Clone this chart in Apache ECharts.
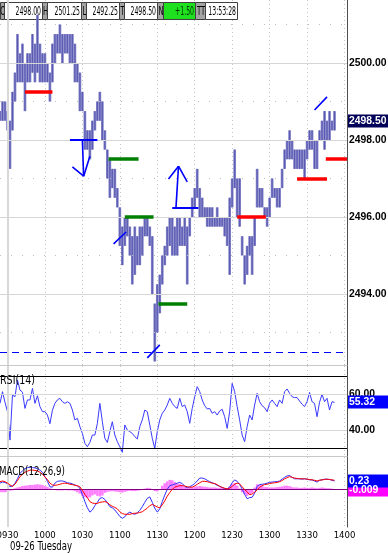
<!DOCTYPE html>
<html><head><meta charset="utf-8">
<script src="https://cdn.jsdelivr.net/npm/echarts@6/dist/echarts.min.js"></script>
<style>html,body{margin:0;padding:0;background:#fff;overflow:hidden}#c{width:388px;height:553px}</style>
</head><body><div id="c"></div>
<script>
// ================= DATA =================
const startMinute = -6;          // first category, minutes from 09:30
const endMinute = 272;           // last category
const barStepMinutes = 2;        // bars / indicator samples every 2 minutes from startMinute

const barHigh = [
 2498.75,2499,2499,2498.75,2498.5,2499.25,2499.75,2500.75,2500.25,2500.5,
 2500,2500.25,2500.25,2500.75,2500.5,2501.25,2500.5,2500.25,2500.25,2500,
 2499.75,2500.5,2500.75,2500.75,2501,2500.75,2500.75,2500.75,2500.75,2500.75,
 2500.5,2500,2499.75,2499.25,2498.75,2498.25,2498.25,2498.5,2498.75,2499,
 2499.25,2499,2498.25,2497.75,2497.5,2497.25,2497.25,2496.75,2496.25,2495.75,
 2496,2496,2495.75,2495.5,2495.75,2495.5,2495.75,2495.75,2496,2496,
 2495.75,2495.5,2493.75,2494.25,2494.5,2495,2495.25,2495.75,2496,2496,
 2495.75,2496,2496,2495.75,2496,2495.75,2496,2496.5,2496.75,2497.25,
 2496.75,2496.5,2496.25,2496.25,2496.25,2496.25,2496,2496.25,2496,2496,
 2496,2496,2496.5,2497,2497.75,2497,2497,2495.5,2495,2495.25,
 2495.5,2495.5,2496,2497.25,2496.75,2496.75,2496.25,2496.25,2496.5,2497,
 2496.75,2496.75,2496.75,2497.25,2497.75,2498,2498.25,2498,2497.75,2497.75,
 2497.75,2497.75,2497.75,2498,2498.25,2498.25,2498,2498,2498.25,2498.5,
 2498.75,2498.5,2498.75,2498.5,2498.75
];
const barLow = [
 2498.5,2498.5,2498.5,2498.25,2497.25,2498.25,2499,2499.5,2499.5,2499.5,
 2498.75,2499.5,2499.5,2499.75,2499.5,2499.75,2499.5,2499.5,2499.5,2499.5,
 2499,2499.5,2500,2500.25,2500.25,2500,2500.25,2500.25,2500,2500,
 2499.5,2499.5,2498.75,2498.75,2497.75,2497.75,2497.5,2497.75,2498.25,2498.5,
 2498.5,2498,2497.75,2497,2496.5,2496.75,2496.5,2496.25,2495.25,2494.75,
 2495.25,2495.5,2495,2494.25,2494.5,2494.75,2494.75,2495,2495.5,2495.5,
 2495.25,2494,2492.25,2493,2493.5,2494.25,2494.75,2495,2495.25,2495,
 2495,2495,2495.25,2495.25,2495.25,2494.25,2495.5,2496,2496.25,2496.5,
 2496,2496,2496,2495.75,2495.75,2495.75,2495.75,2495.75,2495.75,2495.75,
 2495.5,2495.25,2494.5,2496.25,2496.75,2496,2495.75,2495,2494.25,2494.5,
 2495,2494.5,2495.25,2496.25,2496.25,2496.25,2496,2495.75,2496,2496.5,
 2496.5,2496.25,2496.25,2496.75,2497.25,2497.5,2497.5,2497.5,2497.25,2497.25,
 2497.25,2497.25,2497,2497.5,2497.75,2497.75,2497.25,2497.25,2498,2498,
 2497.75,2498,2498,2498.25,2498.25
];
const rsiValues = [
 54.8,61.3,55.4,50.2,34.4,59.4,58.5,67.8,62.2,61.0,
 52.0,56.7,56.7,63.1,54.8,59.0,53.0,50.2,50.2,48.3,
 43.5,51.0,54.8,56.7,57.6,55.7,54.8,55.7,54.8,51.1,
 45.6,46.5,41.9,38.1,32.6,30.7,33.1,37.2,37.2,43.7,
 54.8,44.6,35.4,33.1,39.1,44.6,37.2,33.5,30.7,27.6,
 42.8,40.0,39.1,38.1,36.3,35.0,41.9,45.6,51.1,50.2,
 42.8,35.4,29.8,39.1,45.6,49.3,51.1,53.9,57.6,54.8,
 53.0,52.0,57.6,53.0,53.9,50.2,43.7,52.0,58.5,64.1,
 61.3,56.7,53.5,51.7,52.0,49.3,50.2,48.3,50.6,51.5,
 47.4,40.9,50.2,65.9,61.3,53.0,45.6,37.2,33.5,41.9,
 48.3,45.6,53.9,60.4,55.7,53.5,52.4,50.2,54.8,56.7,
 54.8,53.0,56.7,54.8,61.3,62.8,60.4,58.5,58.0,58.0,
 56.1,54.3,53.0,55.7,60.9,55.7,54.8,47.4,55.4,59.8,
 55.7,57.6,51.1,55.7,55.32
];
const macdValues = [
 0.17,0.20,0.19,0.15,0.07,0.09,0.17,0.29,0.44,0.51,
 0.57,0.60,0.61,0.60,0.59,0.57,0.53,0.47,0.35,0.22,
 0.07,0.06,0.17,0.22,0.23,0.23,0.21,0.18,0.17,0.15,
 0.12,0.09,0.03,-0.14,-0.34,-0.51,-0.63,-0.57,-0.45,-0.36,
 -0.25,-0.23,-0.28,-0.37,-0.48,-0.51,-0.57,-0.66,-0.75,-0.80,
 -0.76,-0.67,-0.63,-0.67,-0.69,-0.65,-0.58,-0.48,-0.36,-0.25,
 -0.21,-0.36,-0.52,-0.63,-0.54,-0.34,-0.16,0.00,0.10,0.12,
 0.14,0.17,0.19,0.16,0.08,0.04,0.07,0.11,0.16,0.23,
 0.31,0.31,0.29,0.25,0.21,0.18,0.15,0.11,0.08,0.05,
 0.02,0.01,0.06,0.18,0.26,0.22,0.13,0.01,-0.14,-0.26,
 -0.23,-0.22,-0.11,0.08,0.13,0.14,0.15,0.17,0.19,0.20,
 0.21,0.21,0.23,0.28,0.33,0.37,0.38,0.33,0.29,0.29,
 0.29,0.28,0.29,0.28,0.26,0.26,0.23,0.20,0.25,0.26,
 0.28,0.28,0.27,0.25,0.23
];
const signalValues = [
 0.21,0.23,0.21,0.17,0.12,0.08,0.14,0.24,0.35,0.41,
 0.47,0.50,0.53,0.53,0.52,0.51,0.47,0.42,0.34,0.27,
 0.17,0.12,0.11,0.12,0.14,0.16,0.17,0.16,0.14,0.13,
 0.11,0.10,0.07,-0.03,-0.14,-0.23,-0.34,-0.38,-0.39,-0.39,
 -0.36,-0.35,-0.34,-0.36,-0.43,-0.47,-0.50,-0.54,-0.62,-0.67,
 -0.69,-0.69,-0.69,-0.67,-0.66,-0.66,-0.64,-0.62,-0.57,-0.52,
 -0.45,-0.42,-0.45,-0.49,-0.51,-0.43,-0.32,-0.19,-0.09,0.00,
 0.06,0.08,0.10,0.10,0.09,0.07,0.06,0.06,0.09,0.14,
 0.18,0.22,0.22,0.21,0.19,0.17,0.16,0.13,0.08,0.05,
 0.03,0.01,0.03,0.08,0.14,0.17,0.15,0.07,-0.01,-0.07,
 -0.15,-0.13,-0.08,-0.02,0.06,0.10,0.13,0.14,0.16,0.17,
 0.18,0.19,0.21,0.24,0.29,0.32,0.35,0.33,0.31,0.30,
 0.29,0.29,0.29,0.28,0.27,0.26,0.25,0.23,0.25,0.26,
 0.27,0.28,0.27,0.26,0.25
];
const histValues = [
 -0.08,-0.08,-0.08,-0.07,-0.04,-0.03,0.03,0.05,0.07,0.09,
 0.10,0.11,0.12,0.12,0.13,0.14,0.13,0.12,0.09,0.07,
 0.03,0.01,-0.02,-0.03,-0.03,-0.03,-0.02,-0.03,-0.03,-0.03,
 -0.05,-0.08,-0.12,-0.18,-0.22,-0.24,-0.22,-0.17,-0.14,-0.18,
 -0.20,-0.17,-0.10,-0.07,-0.06,-0.05,-0.06,-0.07,-0.08,-0.09,
 -0.07,-0.05,-0.04,-0.05,-0.05,-0.04,-0.03,-0.02,0.02,0.04,
 0.03,-0.02,-0.05,-0.06,-0.02,0.10,0.17,0.22,0.26,0.25,
 0.20,0.16,0.15,0.12,0.06,0.03,0.05,0.06,0.07,0.08,
 0.09,0.08,0.07,0.06,0.05,0.05,0.05,0.04,0.04,0.03,
 0.02,0.03,0.08,0.15,0.17,0.10,0.02,-0.08,-0.14,-0.18,
 -0.14,-0.10,0.05,0.14,0.13,0.10,0.06,0.06,0.05,0.05,
 0.05,0.06,0.07,0.08,0.10,0.10,0.09,0.06,0.05,0.05,
 0.04,0.04,0.05,0.04,0.04,0.05,0.04,0.03,0.04,0.05,
 0.04,0.03,0.03,0.02,-0.009
];

const priceTicks = [2494, 2496, 2498, 2500];
const priceMinorLevels = [2493, 2495, 2497, 2499, 2501];
const rsiTicks = [40, 60];
const rsiBands = [30, 70];

// header quote
const openPrice = 2498.00, highPrice = 2501.25, lowPrice = 2492.25, lastPrice = 2498.50, netChange = 1.50;
const lastTime = '13:53:28';
const dateText = '09-26 Tuesday';

// drawing annotations (minutes from 09:30, price)
const redLevels = [[14, 36, 2499.25], [184, 207, 2496.0], [232, 256, 2497.0], [255, 272, 2497.5]];
const greenLevels = [[81, 105, 2497.5], [94, 117, 2496.0], [121, 144, 2493.75]];
const blueLevels = [[50, 72, 2498.0], [132, 153, 2496.25]];
const blueStrokes = [
 [60, 2498.0, 61, 2497.06], [52, 2497.3, 61, 2497.06], [61, 2497.06, 66, 2497.58],
 [85, 2495.30, 95, 2495.61], [112, 2492.34, 122, 2492.68],
 [135, 2496.25, 137, 2497.32], [129, 2496.99, 137, 2497.32], [137, 2497.32, 144, 2496.91],
 [246, 2498.78, 256, 2499.12]
];
const dashedLevel = 2492.5;

// ================= FONT PICK =================
const mctx = document.createElement('canvas').getContext('2d');
function mw(font, txt) { mctx.font = font; return mctx.measureText(txt).width; }
const probe = '2500.00 Tuesday';
const hasFam = f => Math.abs(mw("12px " + f + ", monospace", probe) - mw("12px monospace", probe)) > 0.5;
let FONT = "'Liberation Sans'";
if (hasFam("'Liberation Sans Narrow'")) { FONT = "'Liberation Sans Narrow'"; }
else if (hasFam("'DejaVu Sans Condensed'")) { FONT = "'DejaVu Sans Condensed'"; }
const fnt = (w, s) => (w || 'normal') + ' ' + s + 'px ' + FONT;
const AXFONT = "'Liberation Sans', Arial, sans-serif";
const axFnt = (w, s) => (w || 'normal') + ' ' + s + 'px ' + AXFONT;
const axisFs = Math.min(11.5, 11.5 * 37.5 / mw(axFnt('bold', 11.5), '2500.00'));
const timeFs = 9.5;

// ================= BUILD =================
const categories = [];
for (let m = startMinute; m <= endMinute; m++) {
  const t = 9 * 60 + 30 + m;
  categories.push(String(Math.floor(t / 60)).padStart(2, '0') + String(t % 60).padStart(2, '0'));
}
const catOf = m => categories[Math.round(m) - startMinute];
const idxOfSample = i => i * barStepMinutes;
const isHalfHour = (i, v) => v.endsWith('00') || v.endsWith('30');

const barData = barHigh.map((h, i) => [idxOfSample(i), h, barLow[i]]);
const rsiData = rsiValues.map((v, i) => [idxOfSample(i), v]);
const macdData = macdValues.map((v, i) => [idxOfSample(i), v]);
const sigData = signalValues.map((v, i) => [idxOfSample(i), v]);
const histData = histValues.map((v, i) => [idxOfSample(i), v]);

const lastRsi = rsiValues[rsiValues.length - 1];
const lastMacd = macdValues[macdValues.length - 1];
const lastHist = histValues[histValues.length - 1];

function xAxisCfg(gi, showLabel) {
  return {
    type: 'category', gridIndex: gi, data: categories, boundaryGap: false,
    axisTick: { show: false },
    axisLine: { show: showLabel, lineStyle: { color: '#404040', width: 1 } },
    axisLabel: { show: showLabel, interval: isHalfHour, color: '#000', fontSize: timeFs, fontFamily: FONT, margin: 4 },
    splitLine: { show: true, interval: isHalfHour, lineStyle: { color: '#c4c4c4', type: [1, 3], width: 1 } }
  };
}
function yAxisCfg(gi, min, max, ticks, fmt) {
  return {
    type: 'value', gridIndex: gi, position: 'right', min: min, max: max, scale: true,
    axisLine: { show: true, lineStyle: { color: '#505050', width: 1 } },
    axisTick: { show: false }, splitLine: { show: false },
    axisLabel: { customValues: ticks, formatter: fmt, color: '#000', fontSize: axisFs, fontWeight: 'bold', fontFamily: AXFONT, margin: 2 }
  };
}

const levelLine = (arr, color, w) => arr.map(a => [
  { coord: [catOf(a[0]), a[2]], lineStyle: { color: color, width: w, type: 'solid' } },
  { coord: [catOf(a[1]), a[2]] }]);
const strokeLine = arr => arr.map(a => [
  { coord: [catOf(a[0]), a[1]], lineStyle: { color: '#0000ff', width: 1.6, type: 'solid' } },
  { coord: [catOf(a[2]), a[3]] }]);

const annotationLines = []
  .concat(levelLine(redLevels, '#ff0000', 3.5))
  .concat(levelLine(greenLevels, '#008000', 3.5))
  .concat(levelLine(blueLevels, '#0000ff', 2))
  .concat(strokeLine(blueStrokes));
annotationLines.push({ yAxis: dashedLevel, lineStyle: { color: '#0000ff', width: 1.2, type: [7, 5] } });

const priceGridLines = priceTicks.map(v => ({ yAxis: v, lineStyle: { color: '#d6d6d6', width: 1, type: 'solid' } }))
  .concat(priceMinorLevels.map(v => ({ yAxis: v, lineStyle: { color: '#bcbcbc', width: 1, type: [1, 10] } })))
  .concat([{ xAxis: catOf(0), lineStyle: { color: '#d8d8d8', width: 2, type: 'solid' } }]);

const mlBase = { silent: true, symbol: ['none', 'none'], animation: false, label: { show: false }, emphasis: { disabled: true } };

// text scaled horizontally to the reference width (the original uses a narrow UI font)
function ctext(txt, x, y, targetW, font, align, fill, z) {
  const natural = mw(font, txt);
  return { type: 'text', x: x, y: y, scaleX: Math.min(1, targetW / natural), z: z || 60,
    style: { text: txt, x: 0, y: 0, align: align || 'left', verticalAlign: 'middle', fill: fill || '#000', font: font } };
}

// header graphic
const headerKeys = ['O', 'H', 'L', 'T', 'N', 'TT'];
const headerVals = [openPrice.toFixed(2), highPrice.toFixed(2), lowPrice.toFixed(2), lastPrice.toFixed(2), '+' + netChange.toFixed(2), lastTime];
const keyW = [4, 5, 5, 5, 6, 10], valW = [38, 34, 33, 33, 32, 32];
const headerEls = [];
let hx = 0;
const hy = 2, hh = 17;
const hFont = fnt('normal', 12);
const hScale = 25.5 / mw(hFont, '2498.00');
headerKeys.forEach((k, i) => {
  headerEls.push({ type: 'rect', shape: { x: hx + 0.5, y: hy + 0.5, width: keyW[i], height: hh }, style: { fill: '#a4a4a4', stroke: '#404040', lineWidth: 1 } });
  headerEls.push({ type: 'text', x: hx + keyW[i] / 2 + 1, y: hy + hh / 2 + 1, scaleX: Math.min(1, hScale * 1.1),
    style: { text: k, x: 0, y: 0, align: 'center', verticalAlign: 'middle', fill: '#000', font: hFont } });
  hx += keyW[i];
  headerEls.push({ type: 'rect', shape: { x: hx + 0.5, y: hy + 0.5, width: valW[i], height: hh }, style: { fill: i === 4 ? '#1fe01f' : '#fff', stroke: '#404040', lineWidth: 1 } });
  headerEls.push({ type: 'text', x: hx + valW[i] - 1, y: hy + hh / 2 + 1, scaleX: hScale,
    style: { text: headerVals[i], x: 0, y: 0, align: 'right', verticalAlign: 'middle', fill: i === 4 ? '#003000' : '#000', font: hFont } });
  hx += valW[i];
});

const chart = echarts.init(document.getElementById('c'), null, { renderer: 'canvas' });
chart.setOption({
  animation: false,
  backgroundColor: '#fff',
  grid: [
    { left: 0, top: 0, width: 347, height: 365, containLabel: false, outerBoundsMode: 'none' },
    { left: 0, top: 366, width: 347, height: 90, containLabel: false, outerBoundsMode: 'none' },
    { left: 0, top: 457, width: 347, height: 70, containLabel: false, outerBoundsMode: 'none' }
  ],
  xAxis: [xAxisCfg(0, false), xAxisCfg(1, false), xAxisCfg(2, true)],
  yAxis: [
    yAxisCfg(0, 2492.156, 2501.636, priceTicks, v => v.toFixed(2)),
    yAxisCfg(1, 25.56, 75.56, rsiTicks, v => v.toFixed(2)),
    yAxisCfg(2, -1.041, 0.892, [], v => '')
  ],
  series: [
    { type: 'line', xAxisIndex: 0, yAxisIndex: 0, data: [], z: 1,
      markLine: Object.assign({}, mlBase, { data: priceGridLines }) },
    { type: 'custom', xAxisIndex: 0, yAxisIndex: 0, z: 3, data: barData, encode: { x: 0, y: [1, 2] },
      renderItem: function (params, api) {
        const x = api.value(0);
        const pH = api.coord([x, api.value(1)]);
        const pL = api.coord([x, api.value(2)]);
        const w = 2.7;
        return { type: 'group', children: [
          { type: 'rect', shape: { x: pH[0] - w / 2, y: pH[1], width: w, height: Math.max(1, pL[1] - pH[1]) }, style: { fill: '#8282c8' } },
          { type: 'line', shape: { x1: pH[0], y1: pH[1], x2: pH[0], y2: pL[1] }, style: { stroke: '#5858b0', lineWidth: 1 } }
        ] };
      } },
    { type: 'line', xAxisIndex: 0, yAxisIndex: 0, data: [], z: 5,
      markLine: Object.assign({}, mlBase, { data: annotationLines }) },
    { type: 'line', xAxisIndex: 1, yAxisIndex: 1, data: rsiData, z: 4, showSymbol: false,
      lineStyle: { color: '#3a3aff', width: 1 },
      markLine: Object.assign({}, mlBase, { data:
        rsiTicks.map(v => ({ yAxis: v, lineStyle: { color: '#d6d6d6', width: 1, type: 'solid' } }))
        .concat(rsiBands.map(v => ({ yAxis: v, lineStyle: { color: '#000', width: 1, type: 'solid' } })))
        .concat([{ xAxis: catOf(0), lineStyle: { color: '#d8d8d8', width: 2, type: 'solid' } }]) }) },
    { type: 'bar', xAxisIndex: 2, yAxisIndex: 2, data: histData, barWidth: 2.6, z: 2,
      itemStyle: { color: '#ff80ff' },
      markLine: Object.assign({}, mlBase, { data: [
        { xAxis: catOf(0), lineStyle: { color: '#d8d8d8', width: 2, type: 'solid' } }] }) },
    { type: 'line', xAxisIndex: 2, yAxisIndex: 2, data: macdData, z: 4, showSymbol: false,
      lineStyle: { color: '#3030ff', width: 1 },
      markLine: Object.assign({}, mlBase, { data: [
        { yAxis: 0, lineStyle: { color: '#800080', width: 1, type: 'solid' } }] }) },
    { type: 'line', xAxisIndex: 2, yAxisIndex: 2, data: sigData, z: 5, showSymbol: false,
      lineStyle: { color: '#ff0000', width: 1 } }
  ]
});

// value boxes on the right axis, placed through the axes' own scales
function valueBoxEl(yAxisIndex, value, txt, bg) {
  const y = Math.round(chart.convertToPixel({ yAxisIndex: yAxisIndex }, value));
  return [
    { type: 'rect', z: 70, shape: { x: 348, y: y - 6.5, width: 40, height: 13 }, style: { fill: bg } },
    ctext(txt, 349, y + 0.5, 38, axFnt('bold', axisFs), 'left', '#fff', 71)
  ];
}
const graphics = [
  { type: 'group', z: 100, children: headerEls },
  { type: 'line', z: 50, shape: { x1: 0, y1: 365.5, x2: 347, y2: 365.5 }, style: { stroke: '#c8c8c8', lineWidth: 1 } },
  { type: 'line', z: 50, shape: { x1: 0, y1: 456.5, x2: 347, y2: 456.5 }, style: { stroke: '#c8c8c8', lineWidth: 1 } },
  ctext('RSI(14)', 0, 381, 35, fnt('normal', 12), 'left'),
  ctext('MACD(12,26,9)', -1, 472, 66, fnt('normal', 12), 'left'),
  ctext(dateText, 10, 547, 62, fnt('normal', 12), 'left')
]
  .concat(valueBoxEl(0, lastPrice, lastPrice.toFixed(2), '#000058'))
  .concat(valueBoxEl(1, lastRsi, lastRsi.toFixed(2), '#0000ff'))
  .concat(valueBoxEl(2, lastHist, String(lastHist), '#ff00ff'))
  .concat(valueBoxEl(2, lastMacd, lastMacd.toFixed(2), '#0000ff'));
chart.setOption({ graphic: graphics });
</script></body></html>
